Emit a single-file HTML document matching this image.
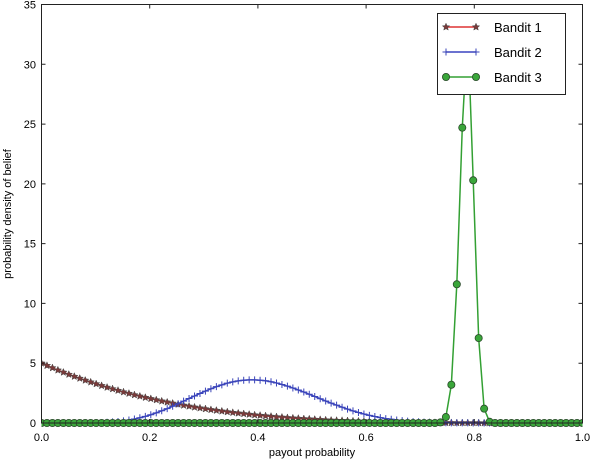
<!DOCTYPE html>
<html><head><meta charset="utf-8">
<style>
html,body{margin:0;padding:0;background:#fff;}
svg{display:block;font-family:"Liberation Sans",sans-serif;}
</style></head>
<body>
<svg id="chart" width="590" height="461" viewBox="0 0 590 461" xmlns="http://www.w3.org/2000/svg">
  <g id="series"></g>
  <rect x="41.5" y="4.5" width="541" height="418.5" fill="none" stroke="#222" stroke-width="1"/>
  <g id="axes"></g>
  <text x="312" y="456" font-size="11" text-anchor="middle" fill="#000">payout probability</text>
  <text x="11" y="214" font-size="11" text-anchor="middle" fill="#000" transform="rotate(-90 11 214)">probability density of belief</text>
  <g id="legend">
    <rect x="437.5" y="13.5" width="128" height="81" fill="#fff" stroke="#222" stroke-width="1"/>
  </g>
</svg>
<script>
const N = 100;
const bandit1 = [5.00,4.80,4.61,4.42,4.24,4.06,3.89,3.73,3.57,3.42,3.27,3.12,2.98,2.85,2.72,2.59,2.47,2.35,2.24,2.13,2.03,1.93,1.83,1.74,1.65,1.56,1.48,1.40,1.32,1.25,1.18,1.11,1.05,0.99,0.93,0.87,0.82,0.77,0.72,0.67,0.63,0.59,0.55,0.51,0.48,0.44,0.41,0.38,0.35,0.33,0.30,0.28,0.25,0.23,0.21,0.20,0.18,0.16,0.15,0.13,0.12,0.11,0.10,0.09,0.08,0.07,0.06,0.05,0.05,0.04,0.03,0.03,0.03,0.02,0.02,0.02,0.01,0.01,0.01,0.01,0.01,0,0,0,0,0,0,0,0,0,0,0,0,0,0,0,0,0,0,0];
const bandit2 = [0,0,0,0,0,0,0,0,0,0.01,0.02,0.03,0.06,0.09,0.13,0.18,0.25,0.33,0.44,0.55,0.69,0.85,1.02,1.20,1.40,1.61,1.83,2.05,2.26,2.47,2.67,2.86,3.04,3.19,3.33,3.44,3.52,3.58,3.61,3.61,3.58,3.53,3.45,3.35,3.22,3.08,2.93,2.76,2.59,2.40,2.22,2.03,1.84,1.66,1.49,1.32,1.16,1.01,0.88,0.75,0.64,0.54,0.45,0.37,0.31,0.25,0.20,0.16,0.12,0.10,0.07,0.06,0.04,0.03,0.02,0.01,0.01,0.01,0.01,0,0,0,0,0,0,0,0,0,0,0,0,0,0,0,0,0,0,0,0,0];
const bandit3 = [0,0,0,0,0,0,0,0,0,0,0,0,0,0,0,0,0,0,0,0,0,0,0,0,0,0,0,0,0,0,0,0,0,0,0,0,0,0,0,0,0,0,0,0,0,0,0,0,0,0,0,0,0,0,0,0,0,0,0,0,0,0,0,0,0,0,0,0,0,0,0,0,0,0.05,0.5,3.2,11.6,24.7,33.0,20.3,7.1,1.2,0.1,0,0,0,0,0,0,0,0,0,0,0,0,0,0,0,0,0];
const xTicks = [0,0.2,0.4,0.6,0.8,1.0];
const xTickLabels = ["0.0","0.2","0.4","0.6","0.8","1.0"];
const yTicks = [0,5,10,15,20,25,30,35];
const yTickLabels = ["0","5","10","15","20","25","30","35"];
const seriesNames = ["Bandit 1","Bandit 2","Bandit 3"];

const NS = "http://www.w3.org/2000/svg";
const X0 = 41.5, X1 = 582.5, Y0 = 423, Y1 = 4.5;
function sx(v){ return X0 + v*(X1-X0); }
function sy(v){ return Y0 - v/35*(Y0-Y1); }
function el(tag, attrs, parent){
  const e = document.createElementNS(NS, tag);
  for (const k in attrs) e.setAttribute(k, attrs[k]);
  parent.appendChild(e); return e;
}
const sg = document.getElementById('series');
const clip = el('clipPath',{id:'pc'},sg);
el('rect',{x:X0,y:Y1,width:X1-X0,height:Y0-Y1+6},clip);

function starPath(cx,cy,r){
  let d="";
  for(let k=0;k<10;k++){
    const a = -Math.PI/2 + k*Math.PI/5;
    const rr = k%2===0 ? r : r*0.45;
    d += (k?"L":"M")+(cx+rr*Math.cos(a)).toFixed(2)+","+(cy+rr*Math.sin(a)).toFixed(2);
  }
  return d+"Z";
}
function marker(kind,cx,cy,parent){
  let m;
  if(kind===0){
    m = el('path',{d:starPath(cx,cy,3.8),fill:'#7a3a3a',stroke:'#444','stroke-width':0.5},parent);
  } else if(kind===1){
    m = el('path',{d:`M${cx-3.5},${cy}H${cx+3.5}M${cx},${cy-3.5}V${cy+3.5}`,stroke:'#3a44b8','stroke-width':1},parent);
  } else {
    m = el('circle',{cx:cx,cy:cy,r:3.6,fill:'#3aa63a',stroke:'#2a4a2a','stroke-width':0.8},parent);
  }
  return m;
}
const colors = ['#dd3333','#3a44c0','#33a033'];
const data = [bandit1,bandit2,bandit3];
const g = el('g',{'clip-path':'url(#pc)'},sg);
for(let s=0;s<3;s++){
  const vals = data[s];
  const sgrp = el('g',{},g);
  
  
  const pts = vals.map((v,i)=>sx(i/(N-1)).toFixed(2)+","+sy(v).toFixed(2)).join(" ");
  const line = el('polyline',{points:pts,fill:'none',stroke:colors[s],'stroke-width':1.5},sgrp);
  
  
  vals.forEach((v,i)=>{
    const m = marker(s,sx(i/(N-1)),sy(v),sgrp);
    
    
  });
}
const ax = document.getElementById('axes');
xTicks.forEach((t,i)=>{
  const x = sx(t);
  const tk = el('path',{d:`M${x},${Y0}v-4M${x},${Y1}v4`,stroke:'#222','stroke-width':1},ax);
  
  
  const lb = el('text',{x:x,y:441,'font-size':11,'text-anchor':'middle',fill:'#000'},ax);
  lb.textContent = xTickLabels[i];
  
  
});
yTicks.forEach((t,i)=>{
  const y = sy(t);
  const tk = el('path',{d:`M${X0},${y}h4M${X1},${y}h-4`,stroke:'#222','stroke-width':1},ax);
  
  
  const lb = el('text',{x:36,y:y+4,'font-size':11,'text-anchor':'end',fill:'#000'},ax);
  lb.textContent = yTickLabels[i];
  
  
});
const lg = document.getElementById('legend');
seriesNames.forEach((n,s)=>{
  const y = 27 + s*25;
  const en = el('g',{},lg);
  
  
  el('line',{x1:446,x2:476,y1:y,y2:y,stroke:colors[s],'stroke-width':1.5},en);
  marker(s,446,y,en); marker(s,476,y,en);
  const t = el('text',{x:494,y:y+5,'font-size':13,fill:'#000'},en);
  t.textContent = n;
});
</script>
</body></html>
